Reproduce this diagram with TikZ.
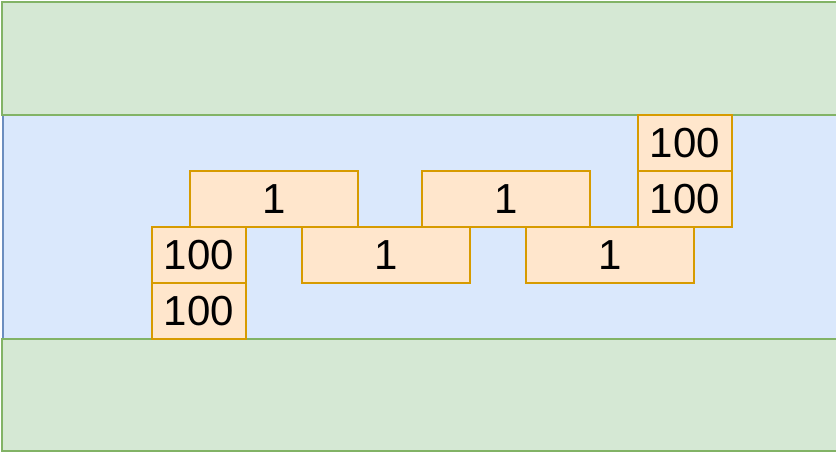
\documentclass[tikz,border=0pt]{standalone}
\usepackage{fontspec}
\setmainfont{Liberation Sans}
\definecolor{gfill}{HTML}{D5E8D4}
\definecolor{gline}{HTML}{82B366}
\definecolor{bfill}{HTML}{DAE8FC}
\definecolor{bline}{HTML}{6C8EBF}
\definecolor{ofill}{HTML}{FFE6CC}
\definecolor{oline}{HTML}{D79B00}
\begin{document}
\begin{tikzpicture}[x=1pt,y=-1pt,
  band/.style={fill=gfill,draw=gline,line width=1.4pt},
  lane/.style={fill=bfill,draw=bline,line width=1.4pt},
  cell/.style={fill=ofill,draw=oline,line width=1.4pt,inner sep=0pt,
    font=\fontsize{42}{44}\selectfont}]
\useasboundingbox (0,0) rectangle (836,452);
\fill[white] (0,0) rectangle (836,452);
\draw[lane] (3,115) rectangle (840,339);
\draw[band] (2,2) rectangle (840,115);
\draw[band] (2,339) rectangle (840,451);
% "1" boxes
\node[cell,minimum width=168pt,minimum height=56pt] (a) at (274,199) {1};
\node[cell,minimum width=168pt,minimum height=56pt] (b) at (506,199) {1};
\node[cell,minimum width=168pt,minimum height=56pt] (c) at (386,255) {1};
\node[cell,minimum width=168pt,minimum height=56pt] (d) at (610,255) {1};
% "100" boxes
\node[cell,minimum width=94pt,minimum height=56pt] (e) at (199,255) {100};
\node[cell,minimum width=94pt,minimum height=56pt] (f) at (199,311) {100};
\node[cell,minimum width=94pt,minimum height=56pt] (g) at (685,143) {100};
\node[cell,minimum width=94pt,minimum height=56pt] (h) at (685,199) {100};
\end{tikzpicture}
\end{document}
